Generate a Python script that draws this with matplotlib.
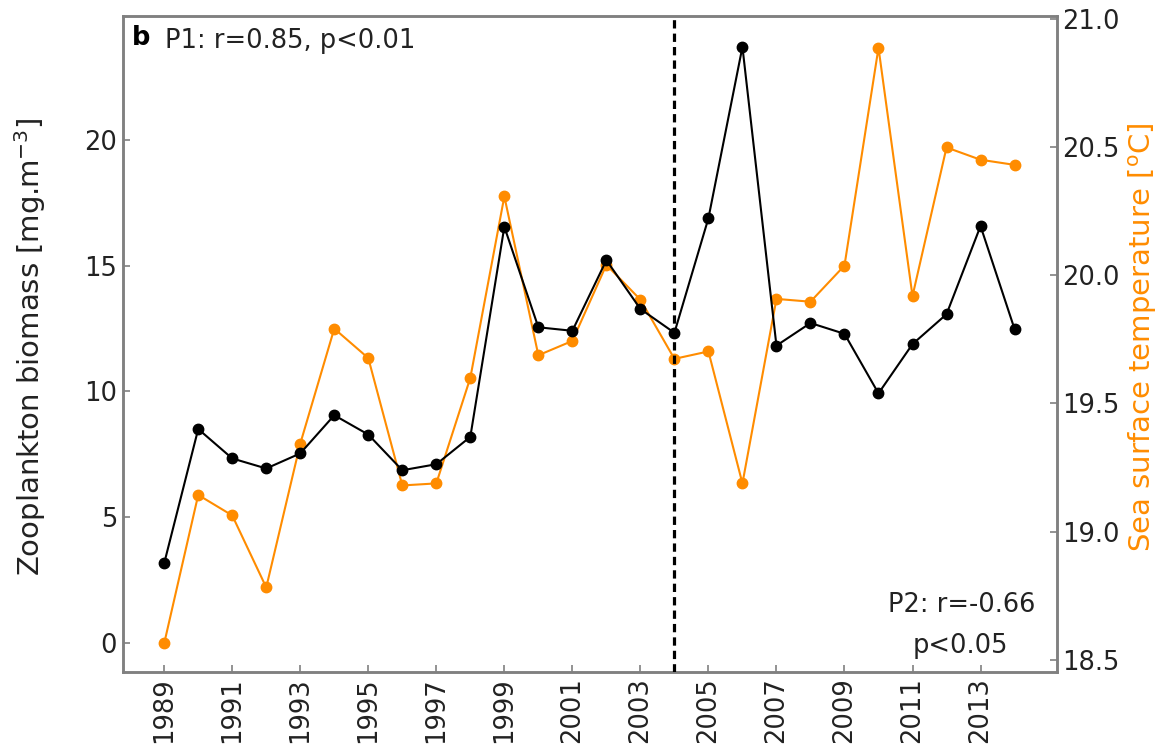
import numpy as np
import matplotlib; matplotlib.use("Agg"); import matplotlib.pyplot as plt

years = list(range(1989, 2015))
zoo = [3.16, 8.50, 7.33, 6.93, 7.53, 9.05, 8.28, 6.86, 7.10, 8.19, 16.55, 12.55, 12.41,
       15.22, 13.28, 12.33, 16.89, 23.71, 11.82, 12.72, 12.29, 9.92, 11.88, 13.07, 16.58, 12.48]
sst = [18.564, 19.143, 19.063, 18.782, 19.343, 19.792, 19.677, 19.180, 19.188, 19.600,
       20.308, 19.688, 19.744, 20.041, 19.905, 19.674, 19.703, 19.188, 19.908, 19.897,
       20.038, 20.888, 19.919, 20.499, 20.451, 20.431]
xticks = list(range(1989, 2014, 2))
split_year = 2004
ORANGE = "#ff8c00"; GREY = "#808080"; FS = 18.5; LFS = 21

fig = plt.figure(figsize=(11.62, 7.49), dpi=100)
ax = fig.add_axes([0.1056, 0.1028, 0.8038, 0.8762])
ax2 = ax.twinx()

ax.plot(years, zoo, "-o", color="black", lw=1.5, ms=7.5, zorder=3)
ax2.plot(years, sst, "-o", color=ORANGE, lw=1.5, ms=7.5, zorder=2)
ax.axvline(split_year, color="black", lw=2.3, linestyle=(0, (2.6, 1.6)), zorder=4)

ax.set_zorder(ax2.get_zorder() + 1); ax.patch.set_visible(False)

ax.set_xlim(1987.78, 2015.24)
ax.set_ylim(-1.17, 24.95)
ax2.set_ylim(18.452, 21.013)
ax.set_xticks(xticks)
ax.set_xticklabels([str(y) for y in xticks], rotation=90)
ax.set_yticks([0, 5, 10, 15, 20])
ax2.set_yticks([18.5, 19.0, 19.5, 20.0, 20.5, 21.0])
ax2.set_yticklabels([f"{v:.1f}" for v in [18.5, 19.0, 19.5, 20.0, 20.5, 21.0]])

for a in (ax, ax2):
    a.tick_params(direction="in", length=5, width=1.2, color=GREY, labelsize=FS, labelcolor="#222222", pad=4)
    for s in a.spines.values():
        s.set_color(GREY); s.set_linewidth(1.8)

ax.set_ylabel("Zooplankton biomass [mg.m$^{-3}$]", fontsize=LFS, color="#222222")
ax2.set_ylabel("Sea surface temperature [$^{\\rm o}$C]", fontsize=LFS, color=ORANGE)
ax.yaxis.label.set_va("center"); ax2.yaxis.label.set_va("center")
ax.yaxis.set_label_coords(-0.099, 0.496)
ax2.yaxis.set_label_coords(1.092, 0.51)

ax.text(0.0096, 0.955, "b", transform=ax.transAxes, fontsize=FS, fontweight="bold", va="baseline", ha="left")
ax.text(0.0453, 0.9503, "P1: r=0.85, p<0.01", transform=ax.transAxes, fontsize=FS, va="baseline", ha="left", color="#222222")
ax.text(0.9768, 0.0914, "P2: r=-0.66", transform=ax.transAxes, fontsize=FS, va="baseline", ha="right", color="#222222")
ax.text(0.948, 0.029, "p<0.05", transform=ax.transAxes, fontsize=FS, va="baseline", ha="right", color="#222222")

fig.savefig("out.png", dpi=100)
